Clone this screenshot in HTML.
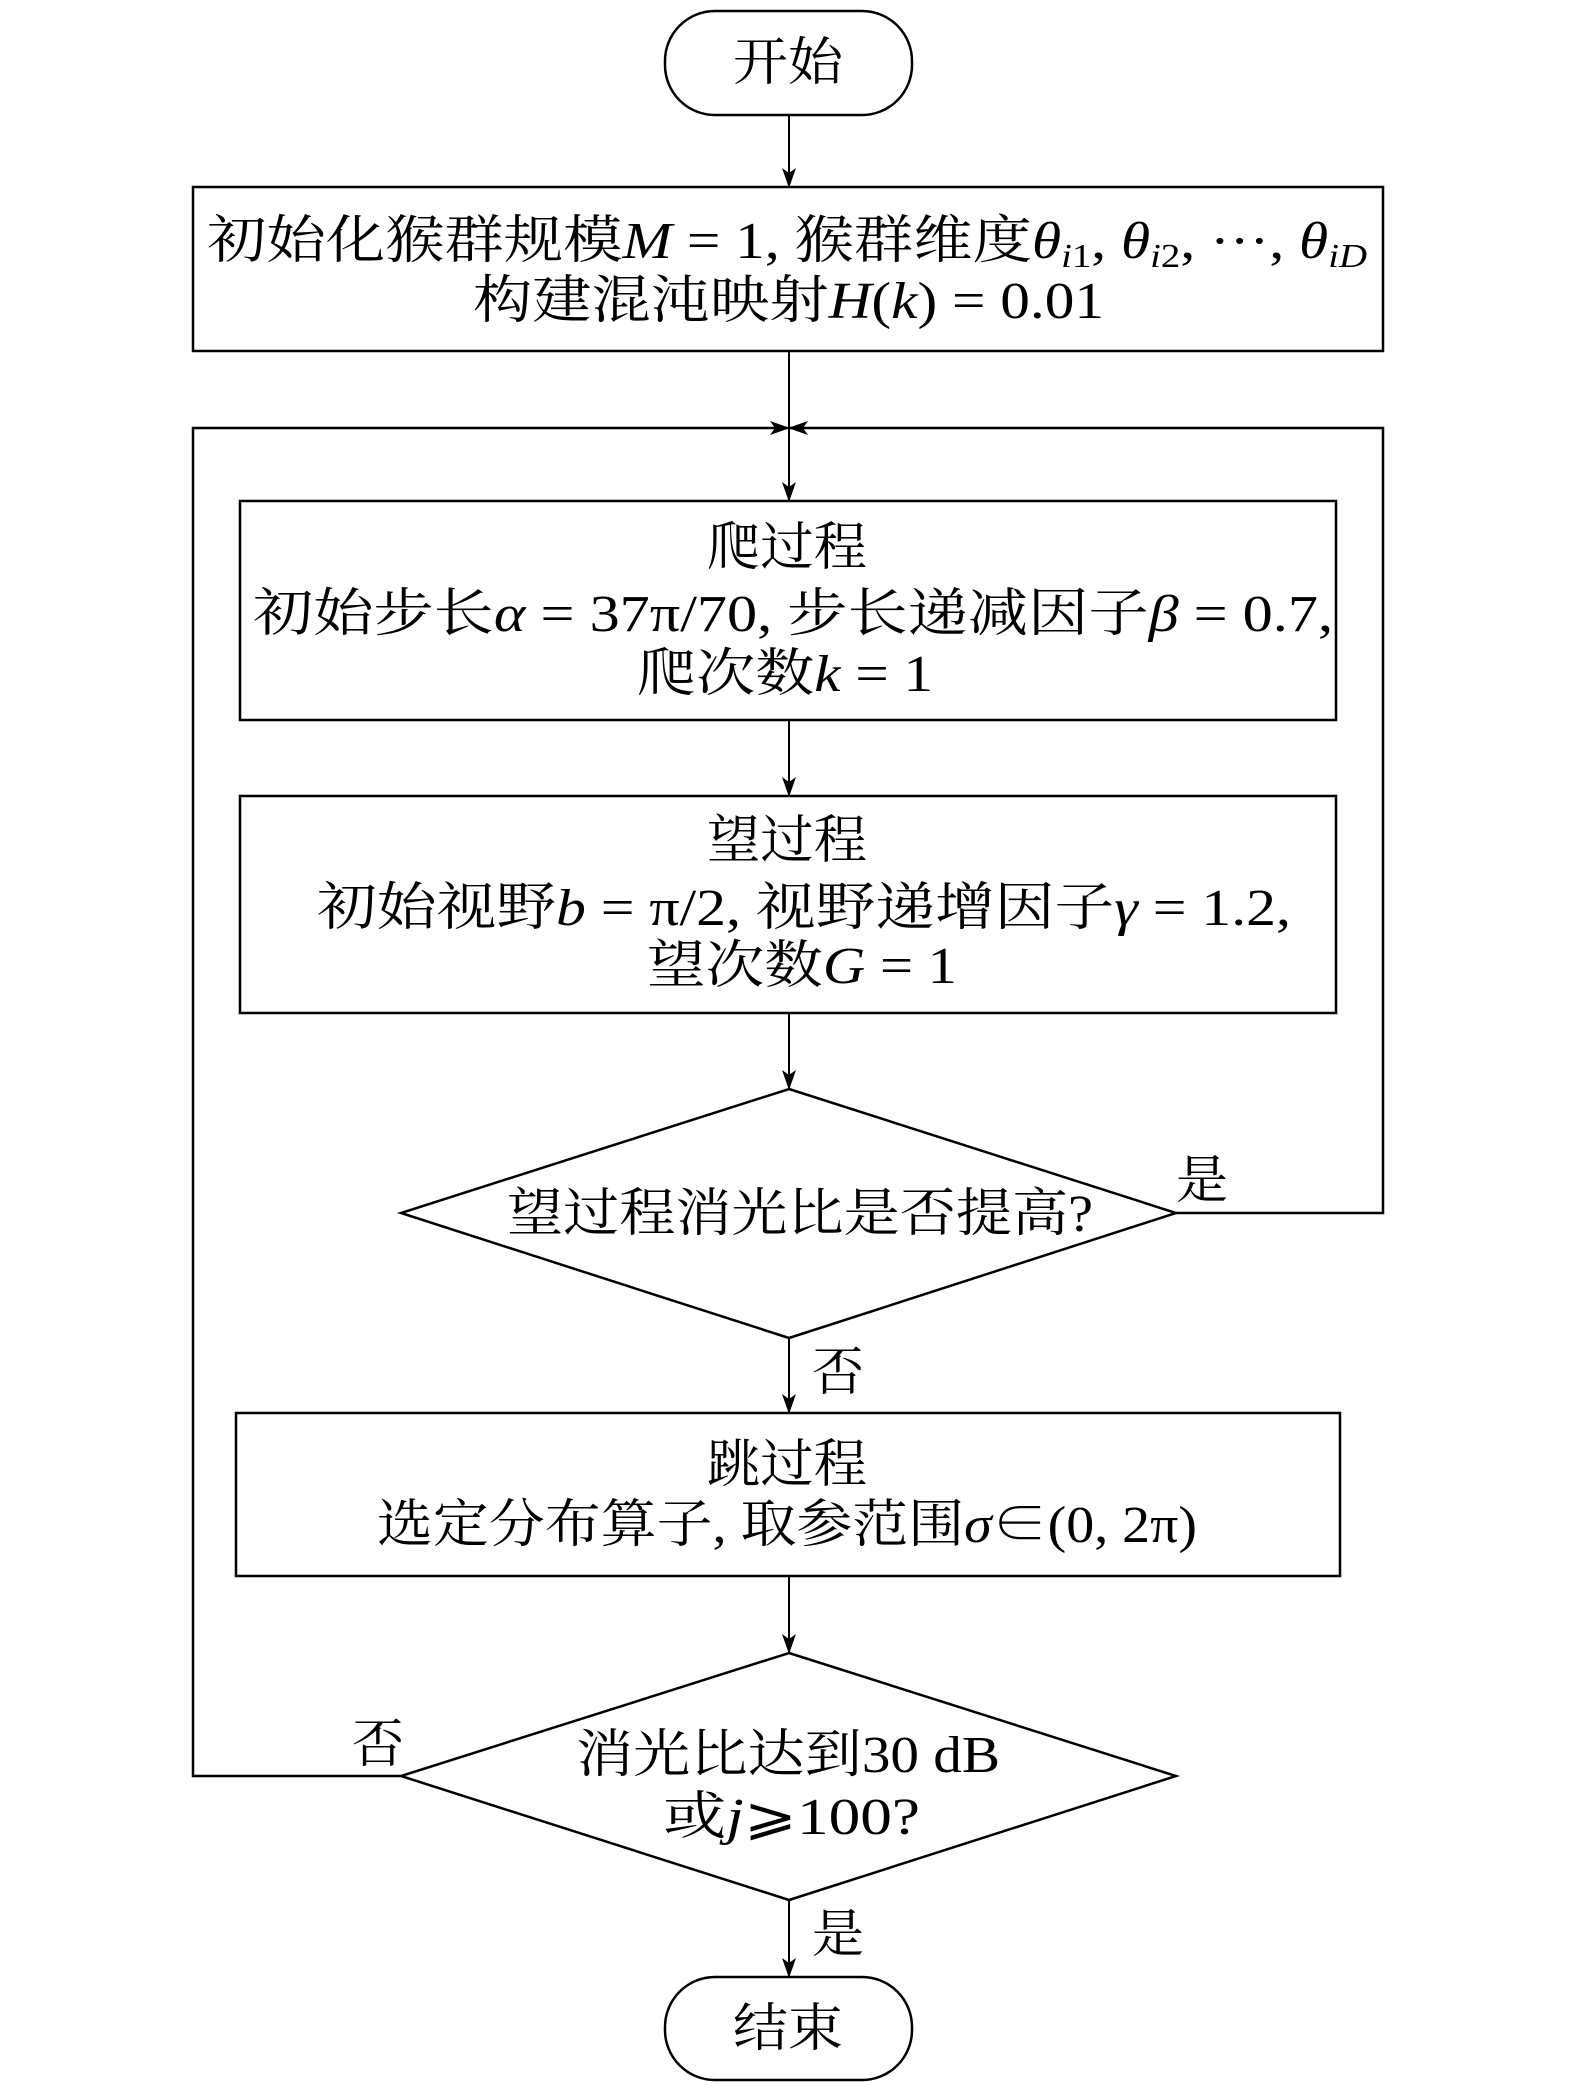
<!DOCTYPE html>
<html><head><meta charset="utf-8"><style>
html,body{margin:0;padding:0;background:#fff;}
svg{display:block;}
text{font-family:"Liberation Serif","Noto Serif CJK SC",serif;font-size:52px;fill:#000;}
.i{font-style:italic;}
.s{font-size:34px;}
</style></head><body>
<svg width="1575" height="2087" viewBox="0 0 1575 2087" xmlns="http://www.w3.org/2000/svg">
<defs><marker id="a" markerWidth="20" markerHeight="14" refX="19" refY="7" orient="auto" markerUnits="userSpaceOnUse"><path d="M0,0 L20,7 L0,14 L5,7 Z" fill="#000"/></marker></defs>
<g fill="none" stroke="#000" stroke-width="2.5">
<rect x="665" y="11" width="247" height="104" rx="50"/>
<rect x="193" y="187" width="1190" height="164"/>
<rect x="240" y="501" width="1096" height="219"/>
<rect x="240" y="796" width="1096" height="217"/>
<polygon points="789,1089 1176,1213 789,1338 401,1213"/>
<rect x="236" y="1413" width="1104" height="163"/>
<polygon points="789,1653 1176,1776 789,1900 401,1776"/>
<rect x="665" y="1977" width="247" height="103" rx="50"/>
</g>
<g stroke="#000" stroke-width="2" fill="none" marker-end="url(#a)">
<line x1="789" y1="115" x2="789" y2="187"/>
<line x1="789" y1="351" x2="789" y2="501"/>
<line x1="789" y1="720" x2="789" y2="796"/>
<line x1="789" y1="1013" x2="789" y2="1089"/>
<line x1="789" y1="1338" x2="789" y2="1413"/>
<line x1="789" y1="1576" x2="789" y2="1653"/>
<line x1="789" y1="1900" x2="789" y2="1977"/>
</g>
<g stroke="#000" stroke-width="2.5" fill="none" marker-end="url(#a)">
<polyline points="1176,1213 1383,1213 1383,428 789,428"/>
<polyline points="401,1776 193,1776 193,428 789,428"/>
</g>
<g lengthAdjust="spacingAndGlyphs">
<text x="733" y="80" textLength="110" lengthAdjust="spacingAndGlyphs">开始</text>
<text x="207" y="258" textLength="1160" lengthAdjust="spacingAndGlyphs">初始化猴群规模<tspan class="i">M</tspan> = 1, 猴群维度<tspan class="i">θ</tspan><tspan class="i s" dy="9">i</tspan><tspan class="s">1</tspan><tspan dy="-9">, </tspan><tspan class="i">θ</tspan><tspan class="i s" dy="9">i</tspan><tspan class="s">2</tspan><tspan dy="-9">, ···, </tspan><tspan class="i">θ</tspan><tspan class="i s" dy="9">iD</tspan></text>
<text x="473" y="318" textLength="631" lengthAdjust="spacingAndGlyphs">构建混沌映射<tspan class="i">H</tspan>(<tspan class="i">k</tspan>) = 0.01</text>
<text x="707" y="565" textLength="160" lengthAdjust="spacingAndGlyphs">爬过程</text>
<text x="253" y="631" textLength="1080" lengthAdjust="spacingAndGlyphs">初始步长<tspan class="i">α</tspan> = 37π/70, 步长递减因子<tspan class="i">β</tspan> = 0.7,</text>
<text x="637" y="691" textLength="296" lengthAdjust="spacingAndGlyphs">爬次数<tspan class="i">k</tspan> = 1</text>
<text x="707" y="858" textLength="160" lengthAdjust="spacingAndGlyphs">望过程</text>
<text x="317" y="925" textLength="974" lengthAdjust="spacingAndGlyphs">初始视野<tspan class="i">b</tspan> = π/2, 视野递增因子<tspan class="i">γ</tspan> = 1.2,</text>
<text x="647" y="983" textLength="310" lengthAdjust="spacingAndGlyphs">望次数<tspan class="i">G</tspan> = 1</text>
<text x="507" y="1231" textLength="586" lengthAdjust="spacingAndGlyphs">望过程消光比是否提高?</text>
<text x="707" y="1482" textLength="160" lengthAdjust="spacingAndGlyphs">跳过程</text>
<text x="377" y="1542" textLength="820" lengthAdjust="spacingAndGlyphs">选定分布算子, 取参范围<tspan class="i">σ</tspan>∈(0, 2π)</text>
<text x="576" y="1772" textLength="424" lengthAdjust="spacingAndGlyphs">消光比达到30 dB</text>
<text x="663" y="1834" textLength="257" lengthAdjust="spacingAndGlyphs">或<tspan class="i">j</tspan>⩾100?</text>
<text x="733" y="2046" textLength="110" lengthAdjust="spacingAndGlyphs">结束</text>
</g>
<text x="1176" y="1198">是</text>
<text x="812" y="1390">否</text>
<text x="352" y="1762">否</text>
<text x="812" y="1952">是</text>
</svg>
</body></html>
